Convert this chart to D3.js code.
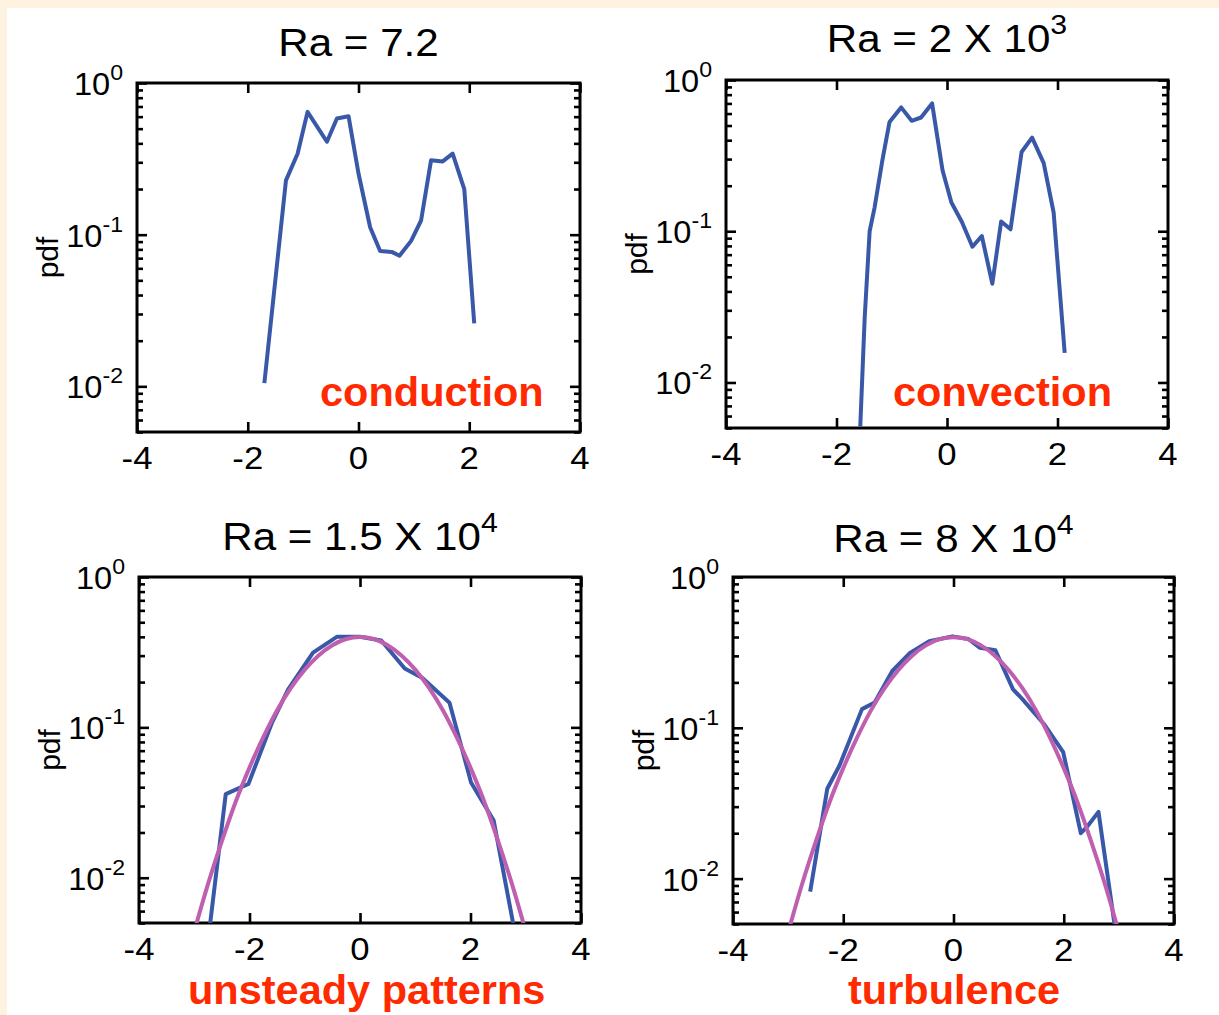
<!DOCTYPE html>
<html><head><meta charset="utf-8">
<script src="https://cdn.jsdelivr.net/npm/d3@7"></script>
<style>
html,body{margin:0;padding:0;background:#fdf3e0;}
svg{display:block;}
text{font-family:"Liberation Sans",Arial,Helvetica,sans-serif;}
</style></head>
<body>
<script>
// ---------- data ----------
const xTicks = [-4, -2, 0, 2, 4];
const yMajor = [1, 0.1, 0.01];
const yMajorExp = ["0", "-1", "-2"];
const titlesMain = ["Ra = 7.2", "Ra = 2 X 10", "Ra = 1.5 X 10", "Ra = 8 X 10"];
const titlesSup = ["", "3", "4", "4"];
const regimeLabels = ["conduction", "convection", "unsteady patterns", "turbulence"];

const p1X = [-1.70,-1.31,-1.10,-0.92,-0.57,-0.39,-0.18,0.00,0.21,0.39,0.60,0.74,0.95,1.13,1.31,1.52,1.70,1.91,2.09];
const p1Y = [0.0105,0.228,0.342,0.645,0.41,0.583,0.604,0.253,0.112,0.078,0.077,0.0726,0.091,0.124,0.309,0.304,0.342,0.20,0.026];

const p2X = [-1.57,-1.49,-1.40,-1.31,-1.17,-1.04,-0.83,-0.64,-0.47,-0.27,-0.08,0.08,0.27,0.46,0.63,0.82,0.98,1.15,1.35,1.54,1.75,1.93,2.13];
const p2Y = [0.0051,0.0267,0.10,0.144,0.294,0.528,0.659,0.537,0.565,0.70,0.252,0.155,0.115,0.079,0.093,0.045,0.116,0.103,0.334,0.416,0.282,0.133,0.0157];

const p3X = [-2.75,-2.43,-2.22,-2.02,-1.59,-1.30,-0.85,-0.42,0.00,0.385,0.81,1.13,1.62,2.01,2.42,2.85];
const p3Y = [0.0038,0.036,0.039,0.042,0.108,0.179,0.314,0.40,0.40,0.378,0.246,0.213,0.146,0.043,0.024,0.0035];

const p4X = [-2.60,-2.29,-2.07,-1.66,-1.43,-1.11,-0.79,-0.44,-0.02,0.27,0.48,0.76,1.08,1.25,1.64,1.99,2.31,2.42,2.63,2.95];
const p4Y = [0.0082,0.0394,0.056,0.133,0.147,0.238,0.314,0.375,0.404,0.388,0.339,0.327,0.18,0.155,0.106,0.069,0.020,0.022,0.0277,0.0042];

const fitX = [-3.0,-2.75,-2.5,-2.25,-2.0,-1.75,-1.5,-1.25,-1.0,-0.75,-0.5,-0.25,0,0.25,0.5,0.75,1.0,1.25,1.5,1.75,2.0,2.25,2.5,2.75,3.0];
const fitY = [0.0044,0.0091,0.0175,0.032,0.054,0.086,0.13,0.183,0.242,0.301,0.352,0.387,0.399,0.387,0.352,0.301,0.242,0.183,0.13,0.086,0.054,0.032,0.0175,0.0091,0.0044];

// ---------- layout ----------
const W = 1219, H = 1015;
const panels = [
  {left:137, top:83, w:443, h:349, titleY:56, labelX:320, labelY:406, data:[p1X,p1Y], fit:false},
  {left:726, top:80, w:442, h:348, titleY:52, labelX:893, labelY:406, data:[p2X,p2Y], fit:false},
  {left:139, top:577, w:442, h:346, titleY:550, labelX:188, labelY:1004, data:[p3X,p3Y], fit:true},
  {left:733, top:577, w:441, h:347, titleY:552, labelX:848, labelY:1004, data:[p4X,p4Y], fit:true}
];
const BLUE = "#3a58a8", PINK = "#bf5fb0", RED = "#ff2a00";

const svg = d3.select("body").append("svg").attr("width", W).attr("height", H);
svg.append("rect").attr("x", 7).attr("y", 8).attr("width", W - 7).attr("height", H - 8).attr("fill", "#ffffff");

// minor log ticks
const minor = [];
[0.001, 0.01, 0.1].forEach(d => { for (let k = 2; k <= 9; k++) minor.push(+(k * d).toPrecision(3)); });

panels.forEach((p, i) => {
  const g = svg.append("g").attr("transform", `translate(${p.left},${p.top})`);
  const x = d3.scaleLinear().domain([-4, 4]).range([0, p.w]);
  const y = d3.scaleLog().domain([0.005, 1]).range([p.h, 0]);
  const minorIn = minor.filter(v => v >= 0.005 && v <= 1);

  const clipId = "clip" + i;
  g.append("clipPath").attr("id", clipId).append("rect").attr("width", p.w).attr("height", p.h);

  const axStyle = sel => {
    sel.selectAll("path.domain").remove();
    sel.selectAll("line").attr("stroke", "#000").attr("stroke-width", 2.6);
    sel.selectAll("text").remove();
  };
  g.append("g").call(d3.axisLeft(y).tickValues(yMajor).tickSize(-10).tickSizeOuter(0)).call(axStyle);
  g.append("g").call(d3.axisLeft(y).tickValues(minorIn).tickSize(-6).tickSizeOuter(0)).call(axStyle);
  g.append("g").attr("transform", `translate(${p.w},0)`).call(d3.axisRight(y).tickValues(yMajor).tickSize(-10).tickSizeOuter(0)).call(axStyle);
  g.append("g").attr("transform", `translate(${p.w},0)`).call(d3.axisRight(y).tickValues(minorIn).tickSize(-6).tickSizeOuter(0)).call(axStyle);
  g.append("g").attr("transform", `translate(0,${p.h})`).call(d3.axisBottom(x).tickValues(xTicks).tickSize(-10).tickSizeOuter(0)).call(axStyle);
  g.append("g").call(d3.axisTop(x).tickValues(xTicks).tickSize(-10).tickSizeOuter(0)).call(axStyle);

  g.append("rect").attr("width", p.w).attr("height", p.h).attr("fill", "none")
    .attr("stroke", "#000").attr("stroke-width", 3);

  // x tick labels (slightly wide glyphs, as in the reference)
  g.selectAll("text.xt").data(xTicks).enter().append("text")
    .attr("transform", d => `translate(${x(d)},${p.h + 37}) scale(1.12,1)`)
    .attr("text-anchor", "middle").attr("font-size", 31).attr("fill", "#000").text(d => d);

  // y tick labels with superscript
  yMajor.forEach((v, k) => {
    const t = g.append("text").attr("transform", `translate(-14,${y(v) + 12}) scale(1.05,1)`)
      .attr("text-anchor", "end").attr("font-size", 31).attr("fill", "#000");
    t.append("tspan").text("10");
    t.append("tspan").attr("dy", -15).attr("font-size", 22).text(yMajorExp[k]);
  });

  g.append("text").attr("transform", `translate(-79,${p.h / 2}) rotate(-90)`)
    .attr("text-anchor", "middle").attr("font-size", 30).attr("fill", "#000").text("pdf");

  const tt = g.append("text").attr("transform", `translate(${p.w / 2},${p.titleY - p.top}) scale(1.08,1)`)
    .attr("text-anchor", "middle").attr("font-size", 39).attr("fill", "#000");
  tt.append("tspan").text(titlesMain[i]);
  if (titlesSup[i]) tt.append("tspan").attr("dy", -18).attr("font-size", 28).text(titlesSup[i]);

  const line = d3.line().x(d => x(d[0])).y(d => y(d[1]));
  const plot = g.append("g").attr("clip-path", `url(#${clipId})`);
  const pts = p.data[0].map((v, k) => [v, p.data[1][k]]);
  plot.append("path").datum(pts).attr("d", line).attr("fill", "none")
    .attr("stroke", BLUE).attr("stroke-width", 4).attr("stroke-linejoin", "round");
  if (p.fit) {
    const fpts = fitX.map((v, k) => [v, fitY[k]]);
    plot.append("path").datum(fpts).attr("d", line.curve(d3.curveMonotoneX)).attr("fill", "none")
      .attr("stroke", PINK).attr("stroke-width", 4);
  }

  svg.append("text").attr("x", p.labelX).attr("y", p.labelY).attr("font-size", 41.5)
    .attr("font-weight", "bold").attr("fill", RED).text(regimeLabels[i]);
});
</script>
</body></html>
